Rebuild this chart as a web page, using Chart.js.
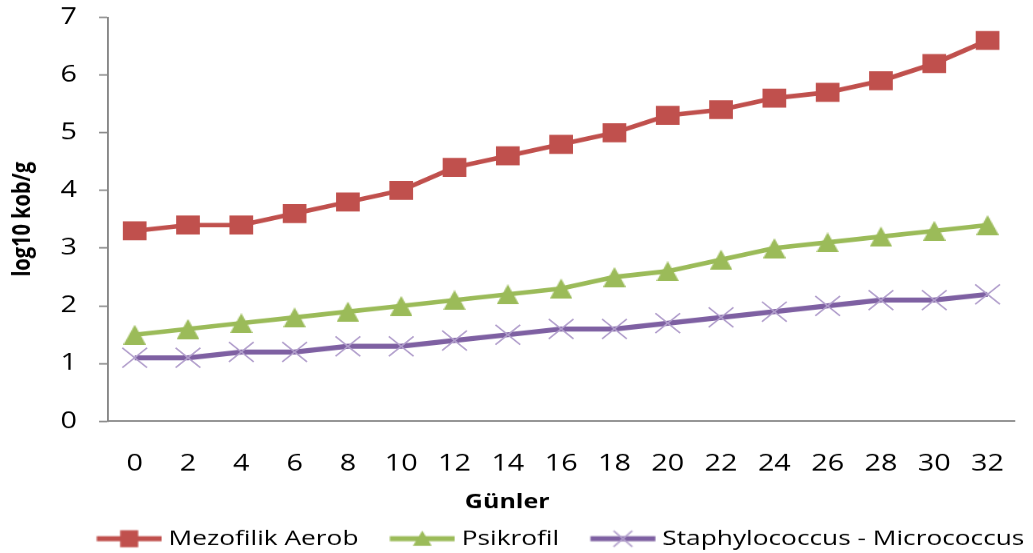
<!DOCTYPE html>
<html>
<head>
<meta charset="utf-8">
<script src="https://cdn.jsdelivr.net/npm/chart.js@4/dist/chart.umd.min.js"></script>
<style>
  html, body { margin: 0; padding: 0; background: #ffffff; overflow: hidden; }
  /* the chart is laid out narrower and widened horizontally to the page width */
  #wrap { width: 826px; height: 553px; position: relative; transform-origin: 0 0; }
</style>
</head>
<body>
<div id="wrap"><canvas id="c"></canvas></div>
<script>
// Storage days and microbial counts (log10 kob/g)
const days = ['0', '2', '4', '6', '8', '10', '12', '14', '16', '18', '20', '22', '24', '26', '28', '30', '32'];
const mezofilikAerob = [3.3, 3.4, 3.4, 3.6, 3.8, 4.0, 4.4, 4.6, 4.8, 5.0, 5.3, 5.4, 5.6, 5.7, 5.9, 6.2, 6.6];
const psikrofil = [1.5, 1.6, 1.7, 1.8, 1.9, 2.0, 2.1, 2.2, 2.3, 2.5, 2.6, 2.8, 3.0, 3.1, 3.2, 3.3, 3.4];
const staphMicro = [1.1, 1.1, 1.2, 1.2, 1.3, 1.3, 1.4, 1.5, 1.6, 1.6, 1.7, 1.8, 1.9, 2.0, 2.1, 2.1, 2.2];
const yTickValues = [0, 1, 2, 3, 4, 5, 6, 7];

const PAGE_W = 1033, LAYOUT_W = 826;
const STRETCH = PAGE_W / LAYOUT_W;
document.getElementById('wrap').style.transform = 'scaleX(' + STRETCH + ')';

const FONT = "'Open Sans', 'DejaVu Sans', sans-serif";
const RED = '#C0504D', GREEN = '#9BBB59', PURPLE = '#7E60A2', PURPLE_LIGHT = '#B09DCB', AXIS = '#878787';

// Filled triangle marker as a small bitmap
function triangleMarker(w, h, color) {
  const cv = document.createElement('canvas');
  cv.width = w; cv.height = h;
  const g = cv.getContext('2d');
  g.fillStyle = color;
  g.beginPath(); g.moveTo(w / 2, 0); g.lineTo(w, h); g.lineTo(0, h); g.closePath(); g.fill();
  return cv;
}

// Legend swatch: a short line with the series marker in the middle
function legendIcon(color, marker, markerColor) {
  const lead = 20.5, lineLen = 52, w = 73, h = 24;
  const cv = document.createElement('canvas');
  cv.width = w; cv.height = h;
  const g = cv.getContext('2d');
  const cx = lead + lineLen / 2, cy = h / 2;
  g.strokeStyle = color; g.lineWidth = 5;
  g.beginPath(); g.moveTo(lead, cy); g.lineTo(lead + lineLen, cy); g.stroke();
  g.fillStyle = markerColor; g.strokeStyle = markerColor;
  if (marker === 'rect') {
    g.fillRect(cx - 7.2, cy - 8.5, 14.4, 17);
  } else if (marker === 'triangle') {
    g.beginPath(); g.moveTo(cx, cy - 8); g.lineTo(cx + 7.5, cy + 7); g.lineTo(cx - 7.5, cy + 7); g.closePath(); g.fill();
  } else {
    g.lineWidth = 1.4;
    g.beginPath();
    g.moveTo(cx - 7.5, cy - 8); g.lineTo(cx + 7.5, cy + 8);
    g.moveTo(cx + 7.5, cy - 8); g.lineTo(cx - 7.5, cy + 8);
    g.stroke();
  }
  return cv;
}
const legendIcons = [
  legendIcon(RED, 'rect', RED),
  legendIcon(GREEN, 'triangle', GREEN),
  legendIcon(PURPLE, 'cross', PURPLE_LIGHT)
];

// Position nudges for the legend row and the x-axis caption
const placement = {
  id: 'placement',
  afterLayout(chart) {
    const lg = chart.legend, ca = chart.chartArea, tb = chart.titleBlock;
    if (lg && ca) {
      const dx = (ca.left + ca.right) / 2 - 8 - (lg.left + lg.right) / 2;
      lg.left += dx; lg.right += dx;
      lg.top += 5.5; lg.bottom += 5.5;
    }
    if (tb) { tb.left -= 5.2; tb.right -= 5.2; }
  }
};

new Chart(document.getElementById('c'), {
  type: 'line',
  data: {
    labels: days,
    datasets: [
      {
        label: 'Mezofilik Aerob',
        data: mezofilikAerob,
        borderColor: RED, backgroundColor: RED,
        borderWidth: 4.5,
        pointStyle: 'rect', pointRadius: 13.4, pointHoverRadius: 13.4,
        pointBackgroundColor: RED, pointBorderColor: RED, pointBorderWidth: 0
      },
      {
        label: 'Psikrofil',
        data: psikrofil,
        borderColor: GREEN, backgroundColor: GREEN,
        borderWidth: 4.5,
        pointStyle: triangleMarker(18, 20, GREEN), pointRadius: 10, pointHoverRadius: 10,
        pointBackgroundColor: GREEN, pointBorderColor: GREEN, pointBorderWidth: 0
      },
      {
        label: 'Staphylococcus - Micrococcus',
        data: staphMicro,
        borderColor: PURPLE, backgroundColor: PURPLE,
        borderWidth: 5,
        pointStyle: 'crossRot', pointRadius: 14, pointHoverRadius: 14,
        pointBackgroundColor: PURPLE_LIGHT, pointBorderColor: PURPLE_LIGHT, pointBorderWidth: 1.4
      }
    ]
  },
  options: {
    responsive: true,
    maintainAspectRatio: false,
    animation: false,
    devicePixelRatio: (PAGE_W + 0.5) / LAYOUT_W,
    layout: { padding: { top: 17.3, right: 4.8, bottom: 0, left: 0 } },
    scales: {
      x: {
        type: 'category',
        offset: true,
        grid: { display: false, drawTicks: false },
        border: { display: true, color: AXIS, width: 1.5 },
        ticks: { color: '#000', font: { family: FONT, size: 23 }, padding: 29, maxRotation: 0, autoSkip: false },
        afterFit(scale) { scale.height = 66.8; scale.paddingLeft = 0; scale.paddingRight = 0; }
      },
      y: {
        min: 0, max: 7,
        afterBuildTicks(scale) { scale.ticks = yTickValues.map(v => ({ value: v })); },
        grid: { display: true, drawOnChartArea: false, drawTicks: true, tickLength: 7.2, tickColor: AXIS, tickWidth: 1.5 },
        border: { display: true, color: AXIS, width: 1.5 },
        ticks: { color: '#000', font: { family: FONT, size: 23 }, padding: 17.6 },
        title: { display: true, text: 'log10 kob/g', color: '#000', font: { family: FONT, size: 20, weight: 'bold' }, padding: { top: 6, bottom: 0 } },
        afterFit(scale) { scale.width = 108 / STRETCH; scale.paddingTop = 0; scale.paddingBottom = 0; }
      }
    },
    plugins: {
      title: {
        display: true, position: 'bottom', weight: 500,
        text: 'Günler', color: '#000',
        font: { family: FONT, size: 20, weight: 'bold', lineHeight: 1 },
        padding: { top: 4, bottom: 0.5 }
      },
      legend: {
        position: 'bottom',
        labels: {
          usePointStyle: true,
          pointStyleWidth: 62,
          padding: 10,
          color: '#000',
          font: { family: FONT, size: 21 },
          generateLabels(chart) {
            const items = Chart.defaults.plugins.legend.labels.generateLabels(chart);
            return items.map((it, i) => Object.assign(it, { pointStyle: legendIcons[i] }));
          }
        }
      },
      tooltip: { enabled: false }
    }
  },
  plugins: [placement]
});
</script>
</body>
</html>
